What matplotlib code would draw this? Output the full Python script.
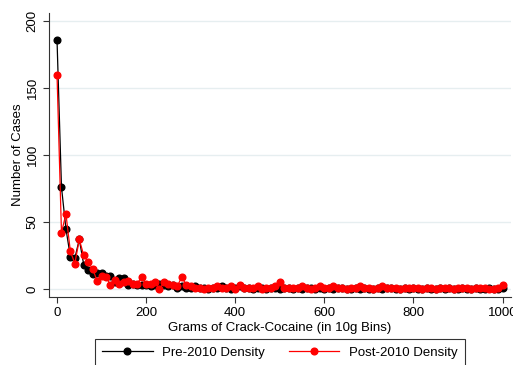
import numpy as np
import matplotlib
matplotlib.use("Agg")
import matplotlib.pyplot as plt

plt.rcParams['font.family'] = ['Liberation Sans', 'DejaVu Sans']

# bins of 10g, 0..1000
grams = list(range(0, 1001, 10))

pre_head = [186, 76, 45, 24, 23, 37, 18, 14, 11, 12,
            12, 10, 10, 5, 8, 8, 3, 4, 3, 3,
            3, 2, 3, 4, 3, 2, 3, 1, 2, 1]
pre_tail = [1, 2, 1, 1, 0, 1, 1, 2, 1, 0,
            1, 2, 1, 1, 0, 1, 1, 0, 1, 1,
            0, 1, 1, 0, 1, 0, 1, 1, 0, 1,
            0, 1, 0, 1, 1, 0, 0, 1, 0, 1,
            0, 0, 1, 0, 1, 1, 0, 0, 1, 0,
            1, 0, 0, 1, 0, 0, 1, 0, 1, 0,
            0, 1, 0, 0, 1, 0, 0, 1, 0, 0,
            1]
post_head = [160, 42, 56, 28, 19, 37, 25, 20, 15, 6,
             10, 9, 3, 7, 4, 5.5, 6, 4, 4, 9,
             4, 4, 5.5, 0, 5, 4, 3, 2, 9, 3]
post_tail = [2, 1, 1, 0, 1, 1, 2, 1, 1, 2,
             0, 3, 1, 1, 1, 2, 0, 1, 1, 2,
             5, 1, 1, 1, 1, 2, 1, 0, 1, 2,
             1, 1, 2, 1, 1, 0, 1, 1, 2, 1,
             1, 0, 1, 2, 1, 1, 1, 0, 1, 1,
             1, 1, 0, 1, 1, 0, 1, 1, 1, 0,
             1, 1, 1, 0, 1, 1, 1, 0, 0, 1,
             3]
pre_density = pre_head + pre_tail
post_density = post_head + post_tail

fig = plt.figure(figsize=(5.13, 3.65), dpi=100)
ax = fig.add_axes([49/513, 68/365, 462/513, 284/365])

ax.plot(grams, pre_density, '-o', color='black', lw=0.9, ms=4.8, label='Pre-2010 Density')
ax.plot(grams, post_density, '-o', color='red', lw=0.9, ms=4.8, label='Post-2010 Density')

ax.set_xlim(-18, 1019)
ax.set_ylim(-6, 206)
ax.set_xticks([0, 200, 400, 600, 800, 1000])
ax.set_yticks([0, 50, 100, 150, 200])
ax.yaxis.grid(True, color='#e6eef0', lw=1)
ax.set_axisbelow(True)
for s in ('top', 'right'):
    ax.spines[s].set_visible(False)
ax.spines['left'].set_color('#333333')
ax.spines['bottom'].set_color('#333333')
ax.tick_params(direction='out', length=4, labelsize=9.5, colors='#333333', labelcolor='black')
for lab in ax.get_yticklabels():
    lab.set_rotation(90)
    lab.set_va('center')
ax.set_xlabel('Grams of Crack-Cocaine (in 10g Bins)', fontsize=9.5, labelpad=2)
ax.set_ylabel('Number of Cases', fontsize=9.5, labelpad=2)

leg = fig.legend(loc='lower center', bbox_to_anchor=(280/513, -1/365), ncol=2,
                 fontsize=9.5, frameon=True, fancybox=False, handlelength=3.8,
                 handletextpad=0.75, columnspacing=1.8, borderpad=0.55,
                 borderaxespad=0)
leg.get_frame().set_edgecolor('black')
leg.get_frame().set_linewidth(0.8)

fig.savefig('out.png', dpi=100)
